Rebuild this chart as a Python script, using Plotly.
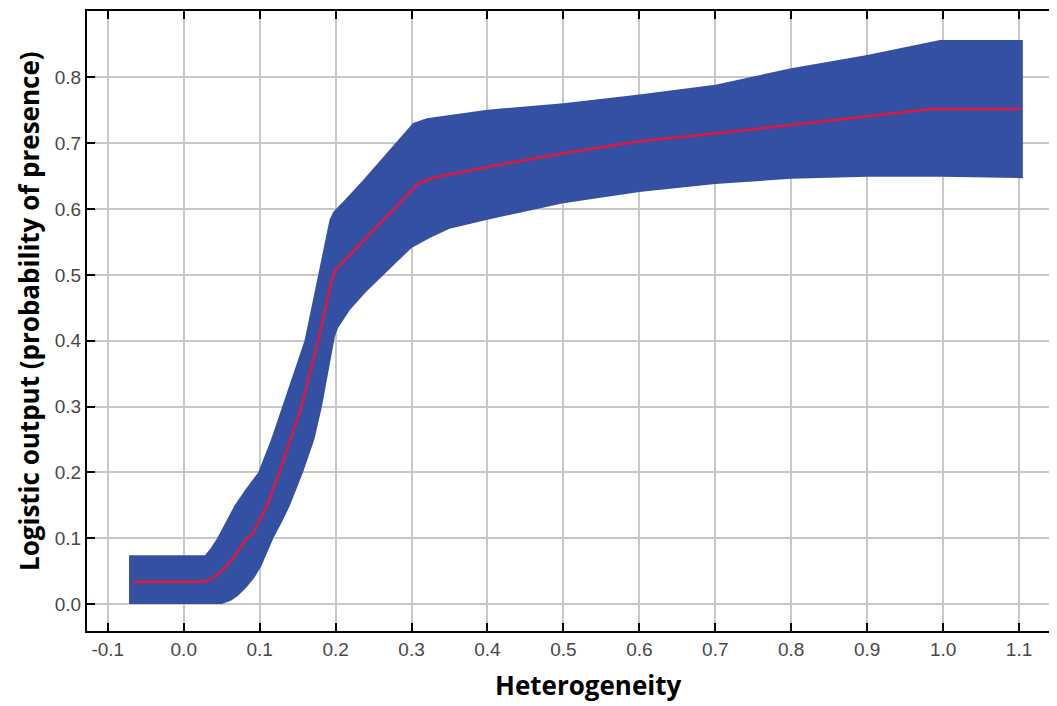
import plotly.graph_objects as go

# Center line (mean logistic output)
center_x = [-0.067, 0.028, 0.040, 0.052, 0.065, 0.083, 0.091, 0.110, 0.126, 0.140, 0.155,
            0.177, 0.195, 0.200, 0.309, 0.330, 0.40, 0.50, 0.60, 0.70, 0.80, 0.90,
            0.985, 1.102]
center_y = [0.034, 0.034, 0.041, 0.052, 0.070, 0.100, 0.107, 0.150, 0.200, 0.250, 0.300,
            0.400, 0.492, 0.508, 0.639, 0.648, 0.664, 0.685, 0.703, 0.715, 0.728, 0.742,
            0.752, 0.752]

# Upper boundary of the band
upper_x = [-0.072, 0.028, 0.035, 0.044, 0.055, 0.067, 0.082, 0.098, 0.115, 0.130, 0.145,
           0.159, 0.177, 0.192, 0.197, 0.203, 0.212, 0.236, 0.302, 0.320, 0.40, 0.50,
           0.60, 0.70, 0.80, 0.90, 0.996, 1.105]
upper_y = [0.074, 0.074, 0.084, 0.100, 0.124, 0.150, 0.175, 0.200, 0.250, 0.300, 0.350,
           0.400, 0.500, 0.584, 0.596, 0.603, 0.614, 0.644, 0.731, 0.738, 0.751, 0.761,
           0.774, 0.789, 0.814, 0.834, 0.857, 0.857]

# Lower boundary of the band
lower_x = [-0.072, 0.050, 0.062, 0.072, 0.083, 0.093, 0.102, 0.110, 0.118, 0.130, 0.140,
           0.157, 0.172, 0.182, 0.199, 0.203, 0.210, 0.219, 0.240, 0.263, 0.300, 0.324,
           0.35, 0.40, 0.50, 0.60, 0.70, 0.80, 0.90, 1.00, 1.105]
lower_y = [0.000, 0.000, 0.005, 0.013, 0.026, 0.040, 0.057, 0.077, 0.100, 0.126, 0.150,
           0.200, 0.250, 0.300, 0.406, 0.419, 0.432, 0.447, 0.474, 0.500, 0.541, 0.556,
           0.570, 0.584, 0.609, 0.626, 0.638, 0.646, 0.649, 0.649, 0.647]

x_ticks = [-0.1, 0.0, 0.1, 0.2, 0.3, 0.4, 0.5, 0.6, 0.7, 0.8, 0.9, 1.0, 1.1]
y_ticks = [0.0, 0.1, 0.2, 0.3, 0.4, 0.5, 0.6, 0.7, 0.8]

band_color = "rgb(52,80,162)"
line_color = "rgb(222,24,64)"

fig = go.Figure()
fig.add_trace(go.Scatter(
    x=upper_x + lower_x[::-1],
    y=upper_y + lower_y[::-1],
    fill="toself", fillcolor=band_color, mode="lines",
    line=dict(width=0, color=band_color), hoverinfo="skip", showlegend=False))
fig.add_trace(go.Scatter(
    x=center_x, y=center_y, mode="lines",
    line=dict(color=line_color, width=2.5), showlegend=False))

tick_font = dict(family="Liberation Sans, Arial, sans-serif", size=19, color="#484848")
title_font = dict(family="Open Sans, sans-serif", size=26, color="black")
fig.update_layout(
    width=1049, height=698,
    margin=dict(l=79, r=0, t=3, b=75),
    plot_bgcolor="white", paper_bgcolor="white",
    xaxis=dict(range=[-0.1274, 1.150], tickvals=x_ticks,
               ticktext=[f"{v:.1f}" for v in x_ticks],
               showgrid=True, gridcolor="#c8c8c8", gridwidth=1.5,
               showline=True, linecolor="black", linewidth=2, mirror="allticks",
               ticks="inside", ticklen=8, tickwidth=2, tickcolor="black",
               tickfont=tick_font, zeroline=False),
    yaxis=dict(range=[-0.041, 0.901], tickvals=y_ticks,
               ticktext=[f"{v:.1f}" for v in y_ticks],
               showgrid=True, gridcolor="#c8c8c8", gridwidth=1.5,
               showline=True, linecolor="black", linewidth=2,
               ticks="inside", ticklen=8, tickwidth=2, tickcolor="black",
               tickfont=tick_font, zeroline=False),
    annotations=[
        dict(text="<b>Heterogeneity</b>", xref="paper", yref="paper",
             x=(588 - 87) / 970, y=-(685 - 631) / 620, xanchor="center", yanchor="middle",
             showarrow=False, font=title_font),
        dict(text="<b>Logistic output (probability of presence)</b>", xref="paper", yref="paper",
             x=-(87 - 29) / 970, y=(631 - 311) / 620, xanchor="center", yanchor="middle",
             textangle=-90, showarrow=False, font=title_font),
    ],
)

fig.write_html("out.html")
